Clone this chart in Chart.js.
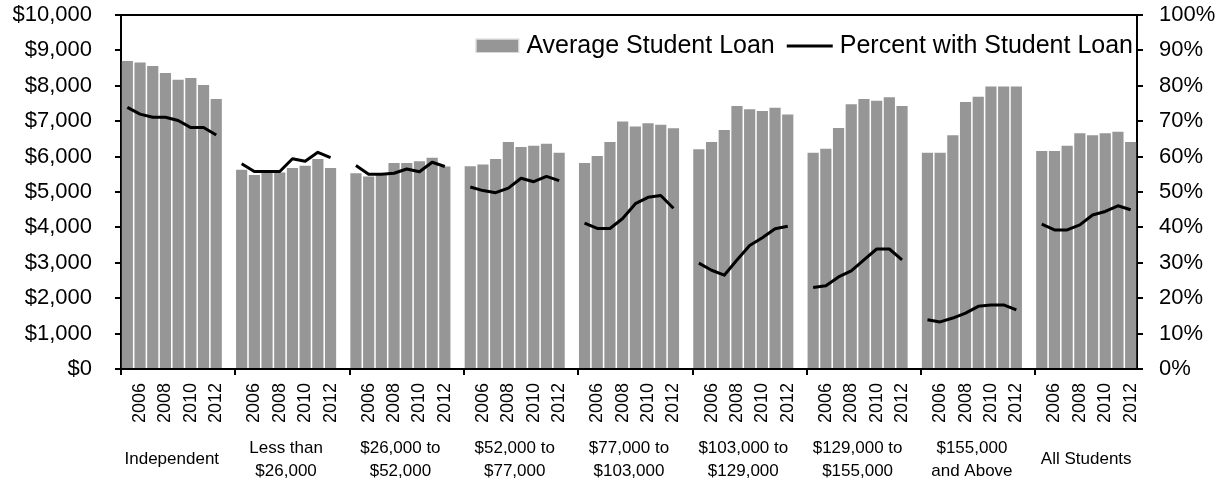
<!DOCTYPE html>
<html><head><meta charset="utf-8">
<script src="https://cdn.jsdelivr.net/npm/chart.js@4.4.1/dist/chart.umd.min.js"></script>
<style>html,body{margin:0;padding:0;background:#fff;}canvas{display:block;}</style>
</head><body>
<canvas id="c" width="1222" height="493" style="width:1222px;height:493px"></canvas>
<script>
// ---- data ----
const groupLabels = [["Independent"],["Less than","$26,000"],["$26,000 to","$52,000"],["$52,000 to","$77,000"],["$77,000 to","$103,000"],["$103,000 to","$129,000"],["$129,000 to","$155,000"],["$155,000","and Above"],["All Students"]];
const years = ["2005","2006","2007","2008","2009","2010","2011","2012"];
const shownYears = ["2006","2008","2010","2012"];
const seriesNames = ["Average Student Loan","Percent with Student Loan"];
// Average Student Loan ($), one array per group, years 2005-2012
const loanIndependent = [8700, 8660, 8560, 8360, 8170, 8220, 8020, 7630];
const loanLt26k      = [5630, 5480, 5550, 5550, 5680, 5740, 5930, 5680];
const loan26to52k    = [5530, 5440, 5500, 5820, 5820, 5870, 5970, 5720];
const loan52to77k    = [5730, 5780, 5930, 6410, 6270, 6310, 6360, 6110];
const loan77to103k   = [5820, 6020, 6410, 6990, 6850, 6940, 6900, 6800];
const loan103to129k  = [6210, 6410, 6750, 7430, 7340, 7290, 7380, 7190];
const loan129to155k  = [6110, 6220, 6810, 7480, 7630, 7580, 7680, 7430];
const loan155kPlus   = [6110, 6110, 6600, 7540, 7690, 7980, 7980, 7980];
const loanAll        = [6160, 6160, 6310, 6660, 6600, 6660, 6700, 6410];
// Percent with Student Loan (%), years 2005-2012
const pctIndependent = [73.9, 72.0, 71.1, 71.1, 70.2, 68.2, 68.2, 66.1];
const pctLt26k       = [58.0, 55.8, 55.8, 55.8, 59.4, 58.7, 61.2, 59.7];
const pct26to52k     = [57.5, 55.0, 55.0, 55.3, 56.5, 55.7, 58.4, 57.2];
const pct52to77k     = [51.4, 50.4, 49.8, 51.1, 53.9, 52.9, 54.4, 53.2];
const pct77to103k    = [41.2, 39.7, 39.7, 42.5, 46.7, 48.5, 49.0, 45.4];
const pct103to129k   = [29.9, 27.9, 26.5, 30.8, 34.9, 37.1, 39.6, 40.3];
const pct129to155k   = [23.0, 23.5, 26.0, 27.7, 30.8, 33.9, 33.9, 30.8];
const pct155kPlus    = [13.9, 13.3, 14.4, 15.8, 17.7, 18.1, 18.1, 16.7];
const pctAll         = [40.9, 39.3, 39.3, 40.7, 43.5, 44.5, 46.1, 45.0];

const loanGroups = [loanIndependent, loanLt26k, loan26to52k, loan52to77k, loan77to103k, loan103to129k, loan129to155k, loan155kPlus, loanAll];
const pctGroups = [pctIndependent, pctLt26k, pct26to52k, pct52to77k, pct77to103k, pct103to129k, pct129to155k, pct155kPlus, pctAll];

// ---- flatten with a blank slot between groups ----
const labels = [], loanData = [], pctData = [];
groupLabels.forEach((g, gi) => {
  years.forEach((y, yi) => { labels.push(y); loanData.push(loanGroups[gi][yi]); pctData.push(pctGroups[gi][yi]); });
  if (gi < groupLabels.length - 1) { labels.push(""); loanData.push(null); pctData.push(null); }
});
const slotsPerGroup = years.length + 1;

const FONT = "'Liberation Sans', Arial, sans-serif";
const BAR_COLOR = "#969696";

const frame = {
  id: 'frame',
  afterDraw(chart) {
    const {ctx, chartArea: a} = chart;
    ctx.save();
    ctx.strokeStyle = '#000'; ctx.lineWidth = 2;
    ctx.beginPath(); ctx.moveTo(a.left - 1, a.top); ctx.lineTo(a.right + 1, a.top); ctx.stroke();
    // legend
    const ds = chart.data.datasets;
    ctx.font = "25px " + FONT;
    ctx.textBaseline = 'middle';
    ctx.fillStyle = '#000';
    const yMid = a.top + 31;
    const w2 = ctx.measureText(ds[0].label).width;
    const w1 = ctx.measureText(ds[1].label).width;
    const t2x = a.right - 4 - w1;
    ctx.textAlign = 'left';
    ctx.fillText(ds[1].label, t2x, yMid);
    const lx1 = t2x - 53, lx2 = t2x - 7;
    ctx.strokeStyle = ds[1].borderColor; ctx.lineWidth = 3;
    ctx.beginPath(); ctx.moveTo(lx1, yMid); ctx.lineTo(lx2, yMid); ctx.stroke();
    const t1x = lx1 - 12 - w2;
    ctx.fillText(ds[0].label, t1x, yMid);
    ctx.fillStyle = ds[0].backgroundColor;
    ctx.fillRect(t1x - 50, yMid - 6.5, 42, 12.5);
    ctx.strokeStyle = '#d8d8d8'; ctx.lineWidth = 1;
    ctx.strokeRect(t1x - 50.5, yMid - 7, 43, 13.5);
    ctx.restore();
  }
};

new Chart(document.getElementById('c'), {
  data: {
    labels: labels,
    datasets: [
      { type: 'bar', label: seriesNames[0], data: loanData, backgroundColor: BAR_COLOR, yAxisID: 'y', xAxisID: 'x', barPercentage: 0.88, categoryPercentage: 1.0, order: 2 },
      { type: 'line', label: seriesNames[1], data: pctData, borderColor: '#000', borderWidth: 3, pointRadius: 0, tension: 0, spanGaps: false, borderJoinStyle: 'round', yAxisID: 'y1', xAxisID: 'x', order: 1 }
    ]
  },
  options: {
    responsive: false, animation: false,
    layout: { padding: { top: 15, left: 0, right: 0, bottom: 0 } },
    plugins: { legend: { display: false }, tooltip: { enabled: false } },
    scales: {
      x: {
        type: 'category', position: 'bottom', offset: true,
        grid: { display: true, drawOnChartArea: false, drawTicks: true, tickLength: 6, offset: true, lineWidth: 2,
                color: (c) => (c.index !== undefined && c.index % slotsPerGroup === 0) ? '#000' : 'rgba(0,0,0,0)' },
        border: { display: true, color: '#000', width: 2 },
        ticks: { autoSkip: false, minRotation: 90, maxRotation: 90, padding: 8, color: '#000', font: { family: FONT, size: 18 },
                 callback: function(v) { const l = this.getLabelForValue(v); return shownYears.includes(l) ? l : ''; } },
        afterFit: (s) => { s.height = 60; s.paddingLeft = 0; s.paddingRight = 0; }
      },
      x2: {
        type: 'linear', position: 'bottom', min: 0, max: labels.length,
        grid: { display: false, drawTicks: false },
        border: { display: false },
        afterBuildTicks: (s) => { s.ticks = groupLabels.map((g, i) => ({ value: i * slotsPerGroup + years.length / 2 })); },
        ticks: { autoSkip: false, maxRotation: 0, minRotation: 0, crossAlign: 'center', padding: 19, color: '#000',
                 font: { family: FONT, size: 17, lineHeight: 1.35 },
                 callback: (v) => groupLabels[Math.round((v - years.length / 2) / slotsPerGroup)] },
        afterFit: (s) => { s.height = 64; s.paddingLeft = 0; s.paddingRight = 0; }
      },
      y: {
        type: 'linear', position: 'left', min: 0, max: 10000,
        grid: { drawOnChartArea: false, drawTicks: true, tickLength: 6, color: '#000', lineWidth: 2 },
        border: { display: true, color: '#000', width: 2 },
        ticks: { stepSize: 1000, padding: 23, color: '#000', font: { family: FONT, size: 22 },
                 callback: (v) => '$' + v.toLocaleString('en-US') },
        afterFit: (s) => { s.width = 121; s.paddingTop = 0; s.paddingBottom = 0; }
      },
      y1: {
        type: 'linear', position: 'right', min: 0, max: 100,
        grid: { drawOnChartArea: false, drawTicks: true, tickLength: 6, color: '#000', lineWidth: 2 },
        border: { display: true, color: '#000', width: 2 },
        ticks: { stepSize: 10, padding: 16, color: '#000', font: { family: FONT, size: 22 },
                 callback: (v) => v + '%' },
        afterFit: (s) => { s.width = 85; s.paddingTop = 0; s.paddingBottom = 0; }
      }
    }
  },
  plugins: [frame]
});
</script>
</body></html>
